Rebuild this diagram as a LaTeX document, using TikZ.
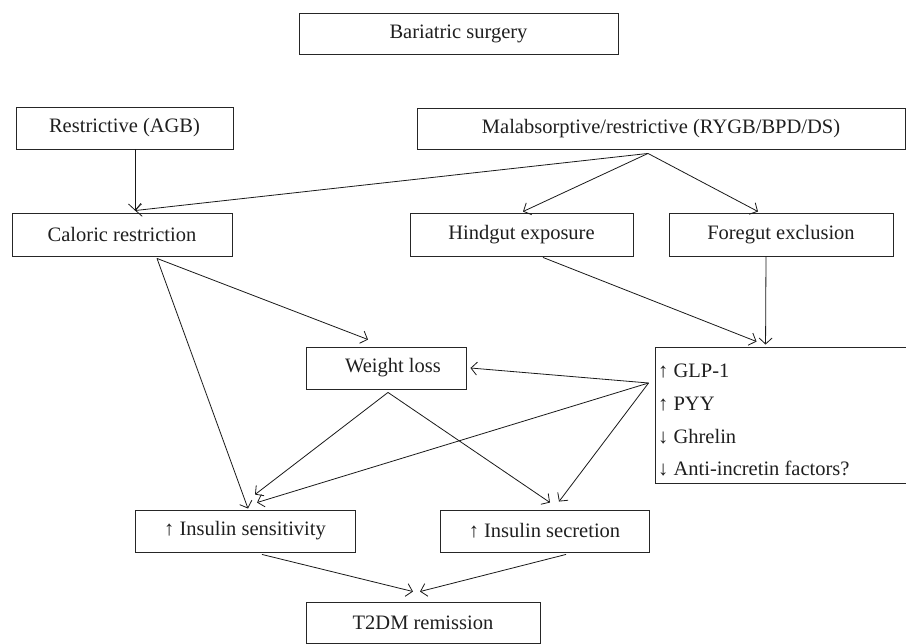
\documentclass[tikz,border=0pt]{standalone}
\usepackage{fontspec}
\setmainfont{Liberation Serif}
\usetikzlibrary{arrows.meta,calc}
\begin{document}
\begin{tikzpicture}[x=1pt,y=-1pt,
  box/.style={draw=black!85, line width=0.9pt, inner sep=0pt, text=black!88,
    font=\fontsize{20.5}{24}\selectfont},
  gtxt/.style={anchor=base west, inner sep=0pt, text=black!88,
    font=\fontsize{20.5}{24}\selectfont},
  arr/.style={-{Straight Barb[length=6pt,width=13pt]}, line width=0.8pt, draw=black!90}]
\useasboundingbox (0,0) rectangle (906,644);
% boxes
\node[box, minimum width=319pt, minimum height=41pt] (bar) at (458.5,33.5) {Bariatric surgery};
\node[box, minimum width=217pt, minimum height=42pt] (res) at (124.5,128) {Restrictive (AGB)};
\node[box, minimum width=488pt, minimum height=41pt] (mal) at (661,128.5) {Malabsorptive/restrictive (RYGB/BPD/DS)};
\node[box, minimum width=220pt, minimum height=43pt] (cal) at (122,234.5) {Caloric restriction};
\node[box, minimum width=223pt, minimum height=43pt] (hind) at (521.5,234.5) {Hindgut exposure};
\node[box, minimum width=224pt, minimum height=43pt] (fore) at (781,234.5) {Foregut exclusion};
\node[box, minimum width=160pt, minimum height=42pt] (wl) at (386,368) {\hspace*{14pt}Weight loss};
\node[box, minimum width=257pt, minimum height=136pt] (glp) at (783.5,415) {};
\node[gtxt] (g1) at (658,378) {↑ GLP-1};
\node[gtxt] (g2) at (658,411) {↑ PYY};
\node[gtxt] (g3) at (658,444) {↓ Ghrelin};
\node[gtxt] (g4) at (658,476) {↓ Anti-incretin factors?};
\node[box, minimum width=220pt, minimum height=42pt] (sens) at (245,531) {↑ Insulin sensitivity};
\node[box, minimum width=209pt, minimum height=42pt] (sec) at (544.5,531) {↑ Insulin secretion};
\node[box, minimum width=234pt, minimum height=41pt] (t2) at (423,622.5) {T2DM remission};
% connector ends
\coordinate (reso) at ($(res.south)+(10.5,0)$);
\coordinate (calin) at ($(cal.north)+(13,-2)$);
\coordinate (malo) at ($(mal.south)+(-13,4)$);
\coordinate (hindin) at ($(hind.north)+(1.5,-1)$);
\coordinate (forein) at ($(fore.north)+(-23,-1)$);
\coordinate (hindo) at ($(hind.south)+(21.5,1)$);
\coordinate (foreo) at ($(fore.south)+(-15,0)$);
\coordinate (glpin1) at ($(glp.north west)+(102,-5)$);
\coordinate (glpin2) at ($(glp.north west)+(111,-2)$);
\coordinate (glpo) at ($(glp.west)+(-6,-32)$);
\coordinate (wlinr) at ($(wl.east)+(4,0)$);
\coordinate (wlint) at ($(wl.north)+(-18,-7)$);
\coordinate (calo) at ($(cal.south)+(35,2)$);
\coordinate (wlo) at ($(wl.south)+(2,3)$);
\coordinate (sensa) at ($(sens.north)+(3,-1)$);
\coordinate (sensb) at ($(sens.north)+(10,-15)$);
\coordinate (sensc) at ($(sens.north)+(12,-7)$);
\coordinate (seca) at ($(sec.north)+(5.5,-7)$);
\coordinate (secb) at ($(sec.north)+(14.5,-8)$);
\coordinate (senso) at ($(sens.south)+(17,2)$);
\coordinate (seco) at ($(sec.south)+(21.5,2)$);
\coordinate (t2a) at ($(t2.north)+(-10,-10)$);
\coordinate (t2b) at ($(t2.north)+(-3,-10)$);
% connectors
\draw[arr] (reso) -- (calin);
\draw[arr] (malo) -- (calin);
\draw[arr] (malo) -- (hindin);
\draw[arr] (malo) -- (forein);
\draw[arr] (hindo) -- (glpin1);
\draw[arr] (foreo) -- (glpin2);
\draw[arr] (calo) -- (wlint);
\draw[arr] (calo) -- (sensa);
\draw[arr] (glpo) -- (wlinr);
\draw[arr] (glpo) -- (sensc);
\draw[arr] (glpo) -- (secb);
\draw[arr] (wlo) -- (sensb);
\draw[arr] (wlo) -- (seca);
\draw[arr] (senso) -- (t2a);
\draw[arr] (seco) -- (t2b);
\end{tikzpicture}
\end{document}
